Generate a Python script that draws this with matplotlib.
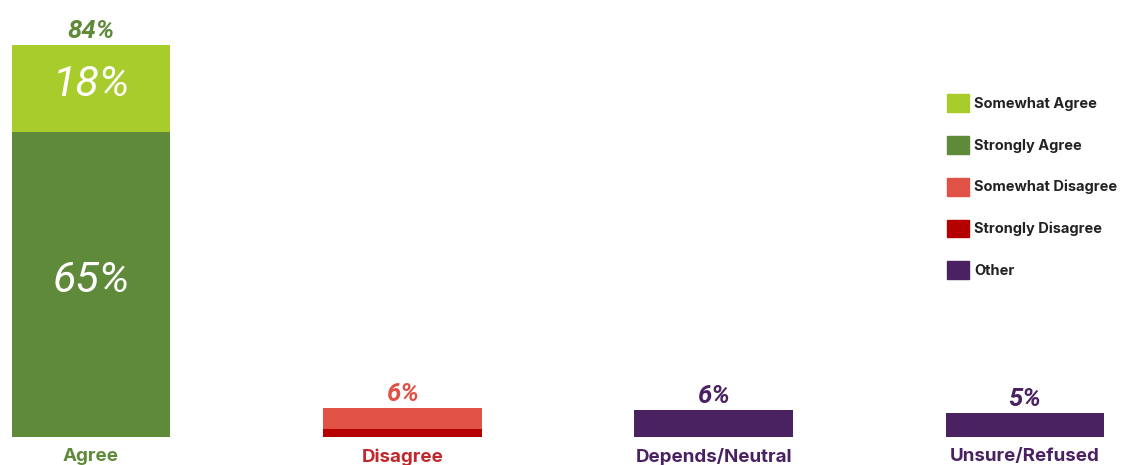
import matplotlib.pyplot as plt
from matplotlib.patches import Patch

categories = ['Agree', 'Disagree', 'Depends/Neutral', 'Unsure/Refused']
strong = [65.3, 1.7, 0, 0]
somewhat = [18.7, 4.5, 0, 0]
other = [0, 0, 5.8, 5.1]
total_labels = ['84%', '6%', '6%', '5%']
strong_labels = ['65%', '', '', '']
somewhat_labels = ['18%', '', '', '']

c_some_agree = '#a8cc2c'
c_strong_agree = '#5e8a3a'
c_some_dis = '#e05246'
c_strong_dis = '#b50000'
c_other = '#4a2262'

strong_colors = [c_strong_agree, c_strong_dis, c_other, c_other]
some_colors = [c_some_agree, c_some_dis, c_other, c_other]
label_colors = [c_strong_agree, '#c0282d', c_other, c_other]
total_colors = [c_strong_agree, c_some_dis, c_other, c_other]

fig = plt.figure(figsize=(11.24, 4.65), dpi=100)
ax = fig.add_axes([0, 0.0602, 1, 0.9398])
x = range(len(categories))
w = 0.51

ax.bar(x, strong, w, color=strong_colors)
ax.bar(x, somewhat, w, bottom=strong, color=some_colors)
ax.bar(x, other, w, color=c_other)

for i in x:
    top = strong[i] + somewhat[i] + other[i]
    ax.text(i, top + 0.4, total_labels[i], ha='center', va='bottom',
            color=total_colors[i], fontsize=18.5, fontweight='bold', style='italic',
            family='Roboto')
    if strong_labels[i]:
        ax.text(i, strong[i] / 2 + 0.8, strong_labels[i], ha='center', va='center',
                color='white', fontsize=31, fontweight='normal', style='italic', family='Roboto')
    if somewhat_labels[i]:
        ax.text(i, strong[i] + somewhat[i] / 2 + 0.8, somewhat_labels[i], ha='center',
                va='center', color='white', fontsize=31, fontweight='normal',
                style='italic', family='Roboto')
    ax.text(i, -2.4, categories[i], ha='center', va='top', color=label_colors[i],
            fontsize=13.5, fontweight='bold', family='Inter')

ax.set_xlim(-0.2923, 3.318)
ax.set_ylim(0, 93.6)
ax.axis('off')

handles = [Patch(color=c_some_agree, label='Somewhat Agree'),
           Patch(color=c_strong_agree, label='Strongly Agree'),
           Patch(color=c_some_dis, label='Somewhat Disagree'),
           Patch(color=c_strong_dis, label='Strongly Disagree'),
           Patch(color=c_other, label='Other')]
leg = fig.legend(handles=handles, loc='upper left', bbox_to_anchor=(0.831, 0.826),
                 frameon=False, handlelength=1.5, handleheight=1.5,
                 labelspacing=1.65, handletextpad=0.35,
                 prop={'family': 'Inter', 'weight': 'bold', 'size': 10.5})
for t in leg.get_texts():
    t.set_color('#222222')

fig.savefig('out.png', dpi=100)
